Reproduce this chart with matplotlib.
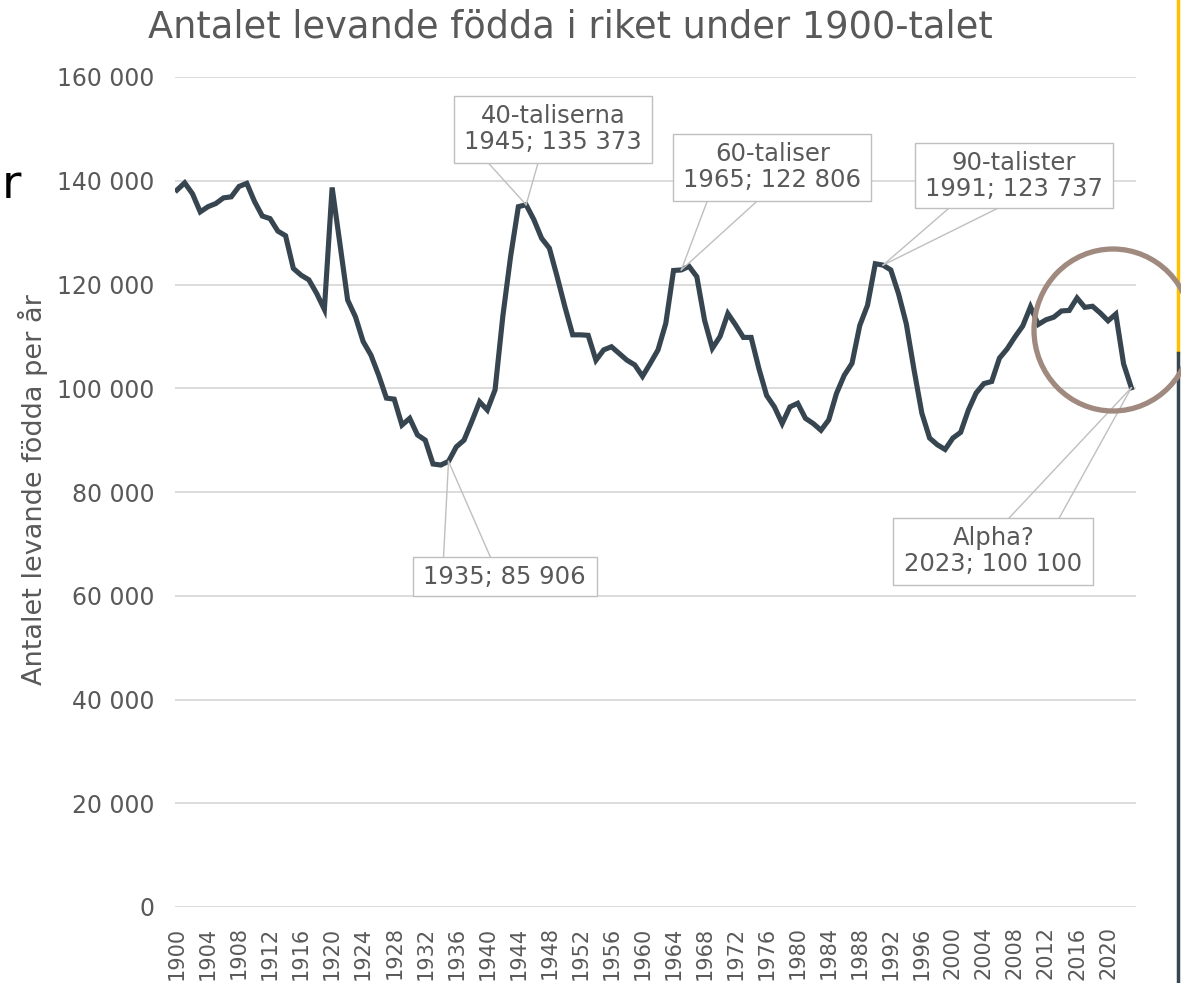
import matplotlib
matplotlib.use("Agg")
import matplotlib.pyplot as plt
from matplotlib.patches import Rectangle, Ellipse
from matplotlib.lines import Line2D
from matplotlib.transforms import IdentityTransform
from matplotlib.ticker import FuncFormatter

# ---------------- data ----------------
years = list(range(1900, 2024))
births = [
    138200, 139600, 137500, 134000, 135000, 135600, 136700, 136900, 138900, 139500,
    136000, 133200, 132700, 130300, 129400, 123100, 121800, 120900, 118300, 115200,
    138700, 127900, 117000, 113800, 109000, 106400, 102500, 98100, 97900, 92900,
    94200, 91000, 90000, 85400, 85200, 85906, 88700, 90000, 93600, 97400,
    95800, 99700, 113900, 125400, 135000, 135373, 132500, 128900, 127000, 121500,
    115700, 110300, 110300, 110200, 105400, 107400, 108000, 106700, 105400, 104500,
    102300, 104800, 107400, 112500, 122700, 122806, 123500, 121500, 113100, 107700,
    110000, 114400, 112200, 109800, 109800, 103800, 98600, 96400, 93200, 96400,
    97100, 94200, 93200, 91900, 93900, 99000, 102500, 104800, 112100, 116000,
    124000, 123737, 122800, 118200, 112400, 103500, 95200, 90400, 89100, 88200,
    90400, 91500, 95800, 99100, 100900, 101300, 105800, 107600, 109900, 112000,
    115700, 112300, 113200, 113700, 114900, 115000, 117400, 115600, 115800, 114500,
    113000, 114300, 104700, 100100,
]
xtick_years = list(range(1900, 2021, 4))
ytick_values = [0, 20000, 40000, 60000, 80000, 100000, 120000, 140000, 160000]

callout_years = [1945, 1965, 1991, 1935, 2023]
callout_names = ["40-taliserna", "60-taliser", "90-talister", None, "Alpha?"]

title = "Antalet levande födda i riket under 1900-talet"
ylabel = "Antalet levande födda per år"

# ---------------- figure ----------------
W, H = 1181, 983
fig = plt.figure(figsize=(W / 100, H / 100), dpi=100)
ax = fig.add_axes([175 / W, 1 - 907 / H, (1136 - 175) / W, (907 - 77) / H])

GRAY_TXT = "#595959"
GRID = "#d9d9d9"
LINE = "#36454f"

ax.plot(years, births, color=LINE, lw=3.7, solid_joinstyle="miter", zorder=3)
ax.set_xlim(1899.75, 2023.6)
ax.set_ylim(0, 160000)
ax.set_yticks(ytick_values)
ax.yaxis.set_major_formatter(FuncFormatter(lambda v, p: f"{int(v):,}".replace(",", " ")))
ax.set_xticks(xtick_years)
ax.set_xticklabels([str(y) for y in xtick_years], rotation=90)
ax.tick_params(axis="x", length=0, pad=14, labelsize=15, labelcolor=GRAY_TXT)
ax.tick_params(axis="y", length=0, pad=15, labelsize=17, labelcolor=GRAY_TXT)
ax.grid(axis="y", color=GRID, lw=1.3)
ax.set_axisbelow(True)
for s in ax.spines.values():
    s.set_visible(False)

fig.text(33 / W, 1 - 490 / H, ylabel, rotation=90, ha="center", va="center",
         fontsize=19.5, color=GRAY_TXT)
fig.text(570 / W, 1 - 27 / H, title, ha="center", va="center",
         fontsize=26.5, color=GRAY_TXT)

# ---------------- callouts ----------------
fig.canvas.draw()
# (box dx, box dy from point in image pixels, width, height, wedge base x offsets, side)
callout_style = {
    1945: (-72, -109, 198, 67, (34, 84), "bottom"),
    1965: (-8, -136, 198, 67, (34, 84), "bottom"),
    1991: (32, -122, 198, 65, (34, 83), "bottom"),
    1935: (-36, 96, 184, 39, (31, 78), "top"),
    2023: (-238, 130, 200, 67, (116, 166), "top"),
}
ident = IdentityTransform()
for yr, name in zip(callout_years, callout_names):
    val = births[years.index(yr)]
    px, py = ax.transData.transform((yr, val))
    dx, dy, w, h, (b0, b1), side = callout_style[yr]
    left = px + dx
    top = py - dy          # display y (origin bottom)
    bottom = top - h
    rect = Rectangle((left, bottom), w, h, transform=ident, fc="white",
                     ec="#bfbfbf", lw=1.0, zorder=5)
    fig.add_artist(rect)
    by = bottom if side == "bottom" else top
    for b in (b0, b1):
        fig.add_artist(Line2D([px, left + b], [py, by], transform=ident,
                              color="#bfbfbf", lw=1.0, zorder=4))
    label = f"{yr}; " + f"{val:,}".replace(",", " ")
    if name:
        label = name + "\n" + label
    fig.text(left + w / 2, bottom + h / 2, label, transform=ident, ha="center",
             va="center", fontsize=17.5, color=GRAY_TXT, linespacing=1.1, zorder=6)

# ---------------- decorations ----------------
fig.add_artist(Ellipse((1113, H - 330), 158, 162, transform=ident, fill=False,
                       ec="#a08a80", lw=3.8, zorder=7))
fig.add_artist(Line2D([1178, 1178], [H, H - 353], transform=ident, color="#ffc000", lw=2.5))
fig.add_artist(Line2D([1178, 1178], [H - 353, 0], transform=ident, color="#37474f", lw=2.5))
fig.text(2 / W, 1 - 198 / H, "r", fontsize=34, color="black",
         ha="left", va="baseline")

fig.savefig("out.png", dpi=100)
